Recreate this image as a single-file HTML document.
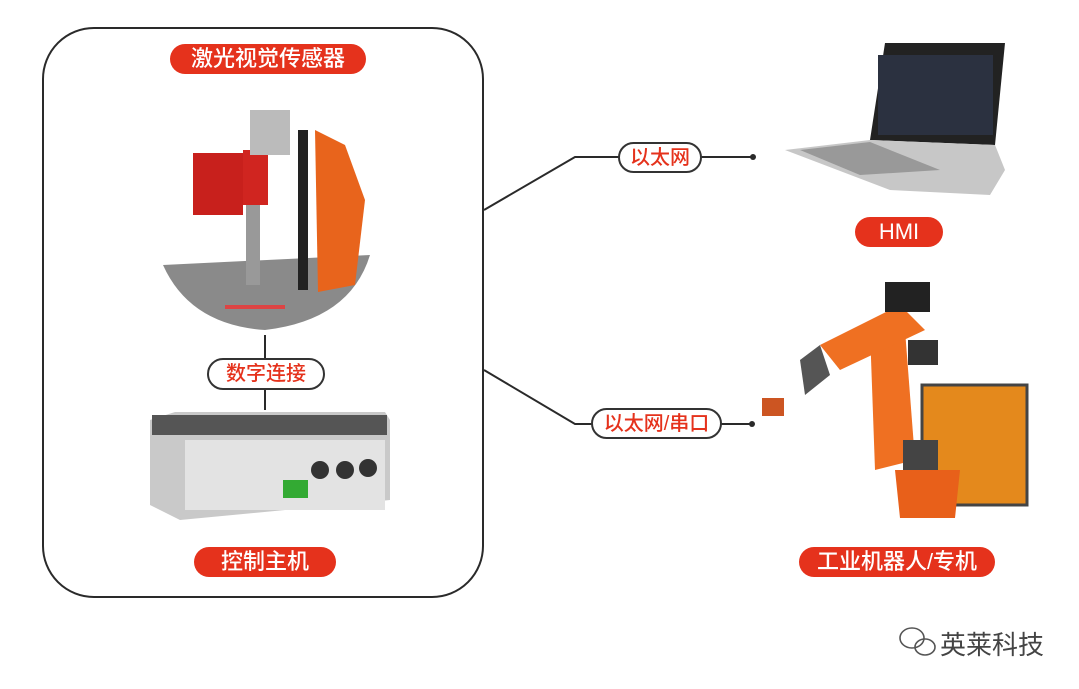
<!DOCTYPE html>
<html><head><meta charset="utf-8"><style>
body{margin:0;width:1079px;height:689px;background:#fff;position:relative;overflow:hidden;font-family:"Liberation Sans","Noto Sans CJK SC",sans-serif}
.a{position:absolute}
.pr{position:absolute;background:#e5321c;color:#fff;border-radius:16px;text-align:center;font-size:22px;line-height:30px;font-weight:500}
.pw{position:absolute;background:#fff;color:#e5321c;border:2px solid #333;border-radius:16px;text-align:center;font-size:20px;line-height:28px;box-sizing:border-box;font-weight:500}
</style></head><body>
<div class="a" style="left:42px;top:27px;width:442px;height:571px;border:2px solid #2a2a2a;border-radius:52px;box-sizing:border-box"></div>
<svg class="a" style="left:0;top:0" width="1079" height="689">
<g stroke="#2a2a2a" stroke-width="2" fill="none">
<polyline points="484,210 575,157 620,157"/><line x1="700" y1="157" x2="753" y2="157"/>
<polyline points="484,370 575,424 593,424"/><line x1="720" y1="424" x2="752" y2="424"/>
<line x1="265" y1="335" x2="265" y2="360"/><line x1="265" y1="388" x2="265" y2="410"/>
</g>
<circle cx="753" cy="157" r="3" fill="#2a2a2a"/><circle cx="752" cy="424" r="3" fill="#2a2a2a"/>
<path d="M163,265 L370,255 Q350,320 265,330 Q190,325 163,265Z" fill="#8a8a8a"/>
<rect x="225" y="305" width="60" height="4" fill="#d44"/>
<path d="M315,130 L345,145 L365,200 L355,285 L318,292Z" fill="#e8641c"/>
<rect x="298" y="130" width="10" height="160" fill="#222"/>
<rect x="193" y="153" width="50" height="62" fill="#c8201c"/>
<rect x="243" y="150" width="25" height="55" fill="#d02520"/>
<rect x="250" y="110" width="40" height="45" fill="#bbb"/>
<rect x="246" y="205" width="14" height="80" fill="#999"/>
<path d="M150,420 L175,412 L385,412 L390,420 L390,500 L180,520 L150,505Z" fill="#c9c9c9"/>
<rect x="152" y="415" width="235" height="20" fill="#555"/>
<rect x="185" y="440" width="200" height="70" fill="#e3e3e3"/>
<circle cx="320" cy="470" r="9" fill="#333"/><circle cx="345" cy="470" r="9" fill="#333"/><circle cx="368" cy="468" r="9" fill="#333"/>
<rect x="283" y="480" width="25" height="18" fill="#3a3"/>
<path d="M885,43 L1005,43 L995,145 L870,140Z" fill="#222"/>
<rect x="878" y="55" width="115" height="80" fill="#2b3140"/>
<path d="M870,140 L995,145 L1005,170 L990,195 L890,190 L785,150Z" fill="#c7c7c7"/>
<path d="M800,150 L870,142 L940,170 L860,175Z" fill="#999"/>
<rect x="922" y="385" width="105" height="120" fill="#e4891c"/>
<rect x="922" y="385" width="105" height="120" fill="none" stroke="#444" stroke-width="3"/>
<path d="M895,470 L960,470 L955,518 L900,518Z" fill="#e8601a"/>
<path d="M870,330 L905,330 L915,460 L875,470Z" fill="#ef7022"/>
<path d="M820,345 L900,305 L925,330 L840,370Z" fill="#ef7022"/>
<rect x="885" y="282" width="45" height="30" fill="#222"/>
<rect x="908" y="340" width="30" height="25" fill="#333"/>
<rect x="903" y="440" width="35" height="30" fill="#444"/>
<path d="M800,360 L820,345 L830,375 L805,395Z" fill="#555"/>
<rect x="762" y="398" width="22" height="18" fill="#c52"/>
<g fill="none" stroke="#555" stroke-width="1.6"><ellipse cx="912" cy="638" rx="12" ry="10"/><ellipse cx="925" cy="647" rx="10" ry="8"/></g>
</svg>
<div class="pr" style="left:170px;top:44px;width:196px">激光视觉传感器</div>
<div class="pw" style="left:207px;top:358px;width:118px;height:32px">数字连接</div>
<div class="pr" style="left:194px;top:547px;width:142px">控制主机</div>
<div class="pw" style="left:618px;top:142px;width:84px;height:31px">以太网</div>
<div class="pw" style="left:591px;top:408px;width:131px;height:31px">以太网/串口</div>
<div class="pr" style="left:855px;top:217px;width:88px">HMI</div>
<div class="pr" style="left:799px;top:547px;width:196px">工业机器人/专机</div>
<div class="a" style="left:940px;top:625px;font-size:26px;color:#444">英莱科技</div>
</body></html>
